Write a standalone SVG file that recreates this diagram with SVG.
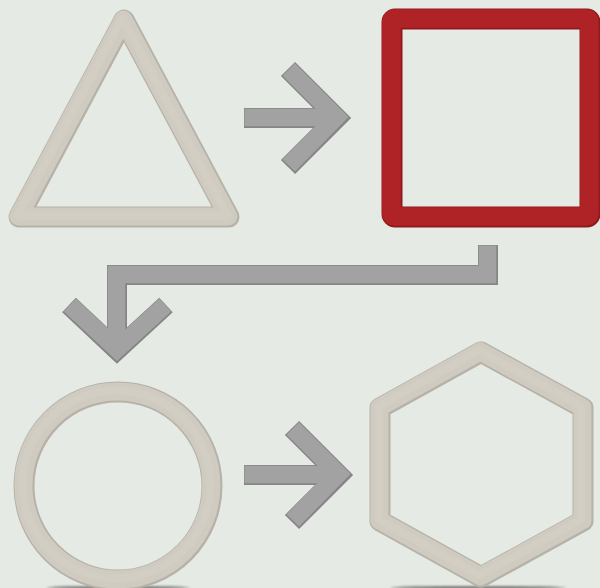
<svg xmlns="http://www.w3.org/2000/svg" width="600" height="588" viewBox="0 0 600 588">
  <defs>
    <filter id="blur" x="-20%" y="-300%" width="140%" height="700%">
      <feGaussianBlur stdDeviation="1.2"/>
    </filter>
    <style>
      .bg { fill: #e5eae5; }
      .beige-edge { fill: none; stroke: #b6b2a8; stroke-width: 21; stroke-linejoin: round; }
      .beige { fill: none; stroke: #cfcbc1; stroke-width: 18; stroke-linejoin: round; }
      .beige-hi { fill: none; stroke: #d8d5cc; stroke-width: 8; stroke-linejoin: round; opacity: 0.35; }
      .red-edge { fill: none; stroke: #8f191d; stroke-width: 21; stroke-linejoin: round; }
      .red { fill: none; stroke: #af2226; stroke-width: 18.5; stroke-linejoin: round; }
      .gray-edge { fill: none; stroke: #858585; stroke-width: 20; stroke-linejoin: miter; stroke-linecap: butt; }
      .gray { fill: none; stroke: #a2a2a2; stroke-width: 17.5; stroke-linejoin: miter; stroke-linecap: butt; }
      .shadow { fill: #333; opacity: 0.6; filter: url(#blur); }
    </style>
  </defs>

  <rect class="bg" x="0" y="0" width="600" height="588"/>

  <g id="triangle">
    <polygon class="beige-edge" points="124,20 19,217 229,217"/>
    <polygon class="beige" points="124,20 19,217 229,217" transform="translate(-0.6,-0.6)"/>
    <polygon class="beige-hi" points="124,20 19,217 229,217" transform="translate(-1.5,-1.5)"/>
  </g>

  <g id="square">
    <rect class="red-edge" x="392" y="19" width="198" height="198" rx="3"/>
    <rect class="red" x="392" y="19" width="198" height="198" rx="3" transform="translate(-0.6,-0.6)"/>
  </g>

  <g id="circle">
    <ellipse class="shadow" cx="118" cy="587.5" rx="72" ry="1.6"/>
    <circle class="beige-edge" cx="118" cy="486" r="94"/>
    <circle class="beige" cx="118" cy="486" r="94" transform="translate(-0.6,-0.6)"/>
    <circle class="beige-hi" cx="118" cy="486" r="94" transform="translate(-1.5,-1.5)"/>
  </g>

  <g id="hexagon">
    <ellipse class="shadow" cx="478" cy="587.5" rx="88" ry="1.6"/>
    <polygon class="beige-edge" points="481,352 583,408 583,521 481,577 380,521 380,408"/>
    <polygon class="beige" points="481,352 583,408 583,521 481,577 380,521 380,408" transform="translate(-0.6,-0.6)"/>
    <polygon class="beige-hi" points="481,352 583,408 583,521 481,577 380,521 380,408" transform="translate(-1.5,-1.5)"/>
  </g>

  <g id="connectors">
    <g id="arrow-triangle-square">
      <path class="gray-edge" d="M244,118 H334"/>
      <path class="gray-edge" d="M288,69 L337,118 L288,167"/>
      <path class="gray" d="M244.5,117.5 H334"/>
      <path class="gray" d="M288.8,69.5 L336.3,117 L288.8,165.5"/>
    </g>
    <g id="arrow-square-circle">
      <path class="gray-edge" d="M488,245 V275 H117 V342"/>
      <path class="gray-edge" d="M69,305 L117,350 L166,305"/>
      <path class="gray" d="M487.5,245.5 V274.5 H116.5 V342"/>
      <path class="gray" d="M69.8,305 L117,349 L165.2,305"/>
    </g>
    <g id="arrow-circle-hexagon">
      <path class="gray-edge" d="M244,475 H336"/>
      <path class="gray-edge" d="M292,428 L339,475 L292,522"/>
      <path class="gray" d="M244.5,474.5 H336"/>
      <path class="gray" d="M292.8,428.5 L338.3,474 L292.8,520.5"/>
    </g>
  </g>
</svg>
